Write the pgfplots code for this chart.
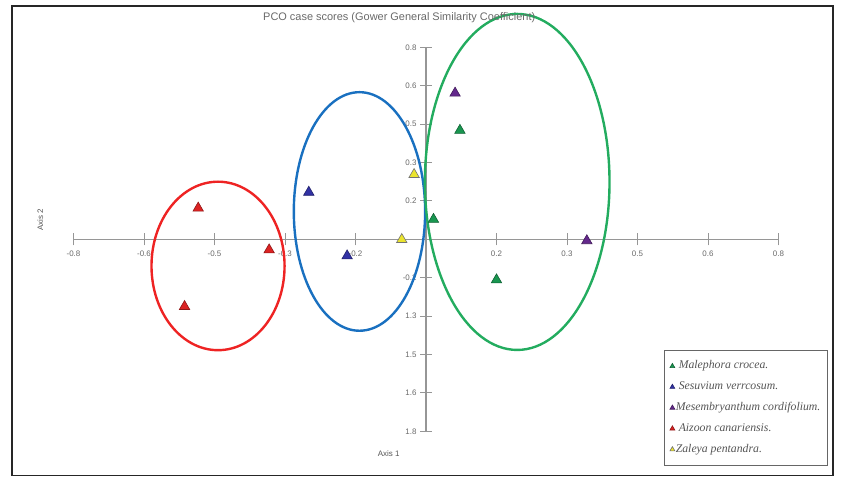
\documentclass[border=0pt]{standalone}
\usepackage{fontspec}
\setmainfont{Liberation Sans}
\newfontfamily\legendfont{Liberation Serif}
\usepackage{pgfplots}
\pgfplotsset{compat=1.18}

% point colours
\definecolor{malgreen}{RGB}{25,150,80}
\definecolor{sesblue}{RGB}{50,50,165}
\definecolor{mespurple}{RGB}{100,40,140}
\definecolor{aizred}{RGB}{220,35,35}
\definecolor{zalyellow}{RGB}{235,228,45}
% ellipse colours
\definecolor{ellred}{RGB}{238,35,35}
\definecolor{ellblue}{RGB}{25,112,192}
\definecolor{ellgreen}{RGB}{35,172,95}
% greys
\definecolor{axisgray}{RGB}{150,150,150}
\definecolor{labelgray}{RGB}{105,105,105}
\definecolor{textgray}{RGB}{85,85,85}

\begin{document}
\begin{tikzpicture}
\useasboundingbox (0,0) rectangle (846bp,494bp);
\draw[line width=1.5bp, draw=black!85] (12bp,18.5bp) rectangle (833bp,488bp);
\begin{axis}[
    at={(426bp,254.7bp)}, anchor=origin,
    scale only axis, width=705bp, height=384bp,
    xmin=-0.8, xmax=0.8, ymin=-0.8, ymax=0.8,
    axis lines=middle,
    axis line style={draw=axisgray, line width=1.3bp, -},
    xtick={-0.8,-0.64,-0.48,-0.32,-0.16,0.16,0.32,0.48,0.64,0.8},
    xticklabels={-0.8,-0.6,-0.5,-0.3,-0.2,0.2,0.3,0.5,0.6,0.8},
    ytick={-0.8,-0.64,-0.48,-0.32,-0.16,0.16,0.32,0.48,0.64,0.8},
    yticklabels={1.8,1.6,1.5,1.3,-0.2,0.2,0.3,0.5,0.6,0.8},
    tick align=center, major tick length=12bp,
    tick style={draw=axisgray, line width=1bp},
    ticklabel style={font=\fontsize{8}{9}\selectfont, text=labelgray},
    xticklabel style={yshift=-2.5bp},
    title={PCO case scores (Gower General Similarity Coefficient)},
    title style={at={(rel axis cs:0.462,1.061)}, anchor=center,
        font=\fontsize{11}{12}\selectfont, text=labelgray},
    xlabel={Axis 1},
    xlabel style={at={(rel axis cs:0.447,-0.059)}, anchor=center,
        font=\fontsize{8}{9}\selectfont, text=textgray},
    ylabel={Axis 2},
    ylabel style={at={(rel axis cs:-0.047,0.55)}, anchor=center, rotate=90,
        font=\fontsize{8}{9}\selectfont, text=textgray},
    clip=false,
    legend cell align=left,
    legend image code/.code={\draw[#1, mark size=2.8bp] plot coordinates {(0bp,0bp)};},
    legend style={at={(rel axis cs:0.8369,0.2117)}, anchor=north west,
        draw=black!60, line width=0.9bp, fill=white,
        font=\legendfont\itshape\fontsize{11.8}{13}\selectfont, text=textgray,
        inner xsep=6bp, inner ysep=9.5bp, row sep=8.3bp,
        nodes={inner sep=1bp, text height=8bp, text depth=2.5bp}},
]

\draw[draw=ellred, line width=2.4bp] (axis cs:-0.472,-0.111) ellipse [x radius=0.151, y radius=0.351];
\draw[draw=ellblue, line width=2.4bp] (axis cs:-0.151,0.116) ellipse [x radius=0.149, y radius=0.497];
\draw[draw=ellgreen, line width=2.4bp] (axis cs:0.207,0.239) ellipse [x radius=0.2095, y radius=0.70];

\addplot[only marks, mark=triangle*, mark size=6bp,
    mark options={fill=malgreen, draw=malgreen!65!black, line width=0.6bp}]
    coordinates {(0.077,0.454) (0.017,0.083) (0.160,-0.169)};
\addlegendentry{\ Malephora crocea.}
\addplot[only marks, mark=triangle*, mark size=6bp,
    mark options={fill=sesblue, draw=sesblue!65!black, line width=0.6bp}]
    coordinates {(-0.266,0.196) (-0.179,-0.069)};
\addlegendentry{\ Sesuvium verrcosum.}
\addplot[only marks, mark=triangle*, mark size=6bp,
    mark options={fill=mespurple, draw=mespurple!65!black, line width=0.6bp}]
    coordinates {(0.066,0.609) (0.365,-0.006)};
\addlegendentry{Mesembryanthum cordifolium.}
\addplot[only marks, mark=triangle*, mark size=6bp,
    mark options={fill=aizred, draw=aizred!65!black, line width=0.6bp}]
    coordinates {(-0.517,0.130) (-0.356,-0.044) (-0.548,-0.280)};
\addlegendentry{\ Aizoon canariensis.}
\addplot[only marks, mark=triangle*, mark size=6bp,
    mark options={fill=zalyellow, draw=black!55, line width=0.6bp}]
    coordinates {(-0.027,0.270) (-0.055,-0.001)};
\addlegendentry{Zaleya pentandra.}

\end{axis}
\end{tikzpicture}
\end{document}
